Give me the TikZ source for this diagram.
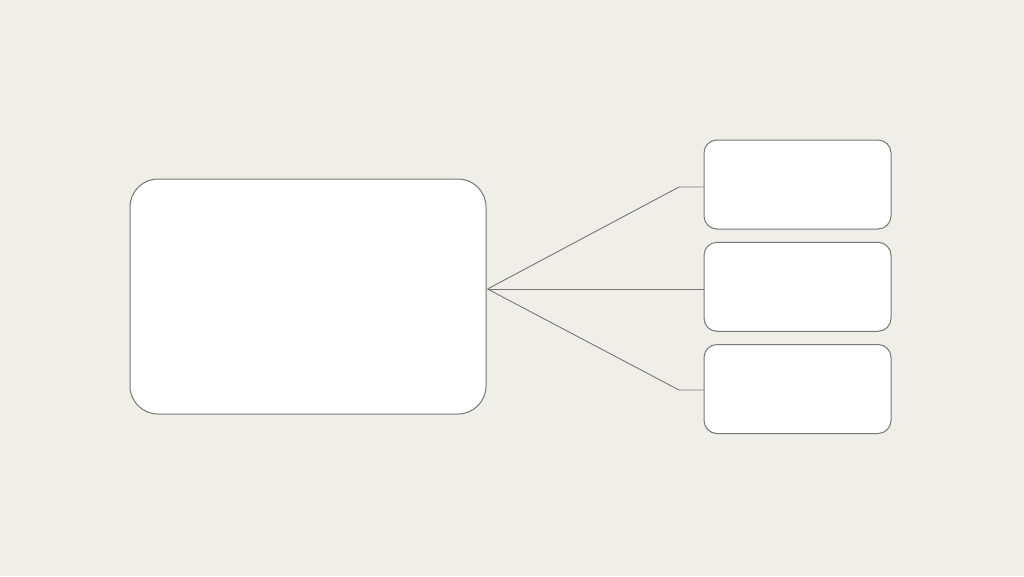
\documentclass[tikz,border=0pt]{standalone}
\definecolor{bgc}{HTML}{F0EEE9}
\definecolor{edgec}{HTML}{777777}
\tikzset{
  bigbox/.style={draw=edgec, fill=white, line width=1pt, rounded corners=28pt, minimum width=356pt, minimum height=235pt, inner sep=0pt},
  smallbox/.style={draw=edgec, fill=white, line width=1pt, rounded corners=13pt, minimum width=187pt, minimum height=89pt, inner sep=0pt},
  conn/.style={draw=edgec, line width=0.9pt}
}
\begin{document}
\begin{tikzpicture}[x=1pt,y=-1pt]
\fill[bgc] (0,0) rectangle (1024,576);
\useasboundingbox (0,0) rectangle (1024,576);
\node[bigbox] (big) at (308,296.5) {};
\node[smallbox] (b1) at (797.5,184.5) {};
\node[smallbox] (b2) at (797.5,286.8) {};
\node[smallbox] (b3) at (797.5,389) {};
\coordinate (hub) at (487.5,289);
\coordinate (e1) at (679,187);
\coordinate (e3) at (679,390);
\draw[conn] (hub) -- (e1) -- (b1.west |- e1);
\draw[conn] (hub) -- (b2.west |- hub);
\draw[conn] (hub) -- (e3) -- (b3.west |- e3);
\end{tikzpicture}
\end{document}
